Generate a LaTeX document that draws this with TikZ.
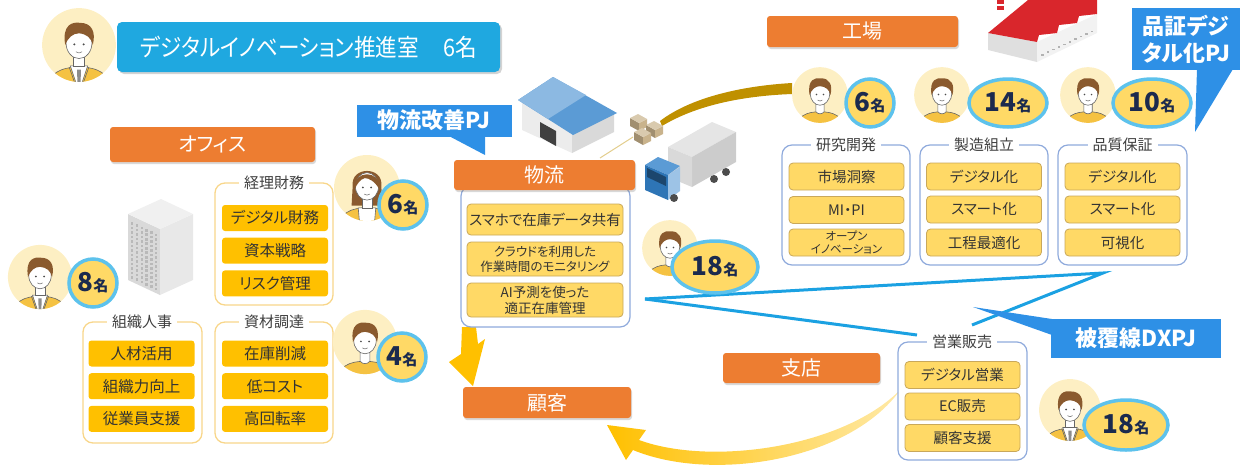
\documentclass[tikz,border=0pt]{standalone}
\usepackage{fontspec}
\setmainfont{Noto Sans CJK JP}[RawFeature=+palt]
\newfontfamily\narrowjp{Noto Sans CJK JP}[RawFeature=+palt, FakeStretch=0.9]
\usetikzlibrary{shapes.geometric,shadows}

\definecolor{hdrblue}{HTML}{1FA8E0}
\definecolor{pjblue}{HTML}{2E90E6}
\definecolor{lblorange}{HTML}{ED7D31}
\definecolor{itemgold}{HTML}{FFC000}
\definecolor{itemlight}{HTML}{FFD966}
\definecolor{itemedge}{HTML}{C9A85A}
\definecolor{grpyellow}{HTML}{F8D68A}
\definecolor{grpblue}{HTML}{8FAADC}
\definecolor{badgeline}{HTML}{5DC2EC}
\definecolor{navy}{HTML}{1B2A4E}
\definecolor{avbg}{HTML}{FDEFC3}
\definecolor{hair}{HTML}{8A5A2E}
\definecolor{shirt}{HTML}{F5C242}
\definecolor{wire}{HTML}{1BA1E2}
\definecolor{goldline}{HTML}{BF9000}
\definecolor{roofblue}{HTML}{5B9BD5}
\definecolor{cabblue}{HTML}{2E75B6}
\definecolor{crate}{HTML}{C9B38C}
\definecolor{factred}{HTML}{D9262C}

\newcommand\fsz[2]{\fontsize{#1}{#2}\selectfont}
\newcommand\cnt[1]{{\fsz{26}{26}\bfseries #1}{\fsz{15}{15}\bfseries 名}}
\newcommand\avface{%
  \draw[black!60, line width=.6, fill=white] (0,-1.5) ellipse (10.5 and 12.5);
  \fill[black!70] (-3.8,-0.5) circle (.9) (3.8,-0.5) circle (.9);
  \draw[black!60, line width=.5] (-2.5,5.5) .. controls (-1,6.8) and (1,6.8) .. (2.5,5.5);
}
\newcommand\avhair{%
  \fill[hair] (-11.2,0) .. controls (-14,-17) and (-5,-19) .. (1,-18)
    .. controls (10,-18) and (14,-11) .. (11.2,0)
    .. controls (10,-6) and (6,-9) .. (0,-9.5)
    .. controls (-5,-9.5) and (-9,-6) .. (-11.2,0) -- cycle;
}

\tikzset{
  hdr/.style={fill=hdrblue, rounded corners=5pt, text=white, font=\narrowjp\fsz{24}{26},
    drop shadow={opacity=.35, shadow xshift=2pt, shadow yshift=-2pt}},
  lbl/.style={fill=lblorange, rounded corners=3pt, text=white, font=\fsz{20}{21},
    drop shadow={opacity=.3, shadow xshift=1pt, shadow yshift=-2pt}},
  pj/.style={fill=pjblue, text=white, inner sep=0pt, align=center, font=\fsz{22}{27}\bfseries},
  grpo/.style={draw=grpyellow, line width=1.3pt, rounded corners=10pt},
  grpb/.style={draw=grpblue, line width=1.2pt, rounded corners=10pt},
  gttl/.style={fill=white, inner xsep=5pt, inner ysep=1pt, text=black!75, font=\fsz{15}{16}},
  itemo/.style={fill=itemgold, rounded corners=3pt, inner sep=0pt, text=black!80,
    minimum width=106, minimum height=26, font=\fsz{15.5}{16}},
  iteml/.style={fill=itemlight, draw=itemedge, line width=.8pt, rounded corners=4pt, inner sep=0pt,
    text=black!80, align=center, minimum width=115, minimum height=27, font=\fsz{14.5}{16}},
  badge/.style={circle, fill=itemlight, draw=badgeline, line width=3.5pt, inner sep=0pt,
    minimum size=48, text=navy},
  badgew/.style={ellipse, fill=itemlight, draw=badgeline, line width=3.5pt, inner sep=0pt,
    minimum width=78, minimum height=48, text=navy},
  wireline/.style={draw=wire, line width=3pt},
  pics/casual/.style={code={
    \fill[avbg] (0,0) circle (30);
    \begin{scope}
      \clip (0,0) circle (30);
      \draw[black!60, line width=.6, fill=shirt] (-27,40) .. controls (-26,22) and (-14,18) .. (0,18)
        .. controls (14,18) and (26,22) .. (27,40) -- cycle;
      \draw[black!60, line width=.6, fill=white] (-4.5,9) -- (-4.5,18) .. controls (-2,21) and (2,21) .. (4.5,18) -- (4.5,9);
      \avface
      \avhair
    \end{scope}
  }},
  pics/suit/.style={code={
    \fill[avbg] (0,0) circle (30);
    \begin{scope}
      \clip (0,0) circle (30);
      \draw[black!60, line width=.6, fill=shirt] (-27,40) .. controls (-26,22) and (-14,18) .. (0,18)
        .. controls (14,18) and (26,22) .. (27,40) -- cycle;
      \draw[black!60, line width=.6, fill=white] (-7,17) -- (7,17) -- (0,38) -- cycle;
      \fill[black!45] (-1.6,20) -- (1.6,20) -- (1.2,33) -- (-1.2,33) -- cycle;
      \draw[black!60, line width=.6] (-8,18) -- (-2,35) (8,18) -- (2,35);
      \draw[black!60, line width=.6, fill=white] (-4.5,9) -- (-4.5,17) -- (4.5,17) -- (4.5,9);
      \avface
      \avhair
    \end{scope}
  }},
  pics/lady/.style={code={
    \fill[avbg] (0,0) circle (30);
    \begin{scope}
      \clip (0,0) circle (30);
      \fill[hair] (-13,-2) .. controls (-15,-20) and (15,-20) .. (13,-2) -- (14,16) -- (-14,16) -- cycle;
      \draw[black!60, line width=.6, fill=shirt] (-27,40) .. controls (-26,22) and (-14,18) .. (0,18)
        .. controls (14,18) and (26,22) .. (27,40) -- cycle;
      \draw[black!60, line width=.6, fill=white] (-8,18) -- (8,18) -- (6,40) -- (-6,40) -- cycle;
      \draw[black!60, line width=.6, fill=white] (-4.5,9) -- (-4.5,18) -- (4.5,18) -- (4.5,9);
      \avface
      \fill[hair] (-11.2,1) .. controls (-13,-17) and (13,-17) .. (11.2,1)
        .. controls (7,-6) and (2,-9) .. (-2,-9) .. controls (-6,-8) and (-9,-4) .. (-11.2,1) -- cycle;
    \end{scope}
  }},
}

\begin{document}
\begin{tikzpicture}[x=1pt,y=-1pt]
\useasboundingbox (0,0) rectangle (1247,472);

% wires of the DX project
\coordinate (tap) at (645,299);
\coordinate (qa-foot) at (1103,273);
\coordinate (sales-in) at (917,335);
\coordinate (sales-mid) at (972,325);
\draw[wireline] (tap) -- (qa-foot) -- (sales-mid);
\draw[wireline] (tap) -- (sales-in);

% goods flow
\coordinate (wh-foot) at (600,158);
\coordinate (crate-a) at (660,121);
\coordinate (crate-b) at (662,126);
\coordinate (rd-a) at (792,83);
\coordinate (rd-b) at (792,94);
\draw[goldline!45, line width=1pt] (wh-foot) -- (633,137);
\fill[goldline] (crate-a) .. controls (690,98) and (740,86) .. (rd-a) -- (rd-b)
  .. controls (740,96) and (695,106) .. (crate-b) -- cycle;
\fill[itemgold] (462,327) -- (476,327) -- (478,344) -- (485,339) -- (473,386) -- (449,362) -- (461,354) -- cycle;
\shade[left color=itemgold, right color=itemgold!35] (898,393) .. controls (845,462) and (710,482) .. (633,450)
  -- (626,460) -- (607,425) -- (646,430) -- (639,440)
  .. controls (710,466) and (840,448) .. (898,392) -- cycle;

% office tower
\fill[gray!30] (128,214) -- (160,229) -- (160,295) -- (128,280) -- cycle;
\fill[gray!18] (160,229) -- (193,214) -- (193,280) -- (160,295) -- cycle;
\fill[gray!12] (128,214) -- (161,199) -- (193,214) -- (160,229) -- cycle;
\foreach \c in {0,...,5}
  \foreach \r in {0,...,12}
    \fill[gray!55] ({131+\c*4.8},{222+\r*4.5+\c*2.3}) rectangle +(2.4,2.6);

% warehouse
\fill[gray!15] (522,102) -- (572,133) -- (572,153) -- (522,130) -- cycle;
\fill[gray!30] (572,133) -- (614,112) -- (614,132) -- (572,153) -- cycle;
\fill[black!75] (540,122) -- (556,131) -- (556,146) -- (540,137) -- cycle;
\fill[roofblue] (518,100) -- (553,77) -- (617,113) -- (573,135) -- cycle;
\fill[roofblue!70!white] (518,100) -- (553,77) -- (586,95) -- (548,119) -- cycle;

% crates
\foreach \p in {(630,114),(646,121),(634,128)}{
  \fill[crate!80!black] \p ++(0,4) -- ++(9,5) -- ++(0,8) -- ++(-9,-5) -- cycle;
  \fill[crate] \p ++(9,9) -- ++(8,-4) -- ++(0,8) -- ++(-8,4) -- cycle;
  \fill[crate!70!white] \p ++(0,4) -- ++(8,-4) -- ++(9,5) -- ++(-8,4) -- cycle;
}

% truck
\fill[gray!20] (668,147) -- (712,122) -- (736,132) -- (692,157) -- cycle;
\fill[gray!40] (692,157) -- (736,132) -- (736,162) -- (692,187) -- cycle;
\fill[gray!30] (668,147) -- (692,157) -- (692,187) -- (668,177) -- cycle;
\fill[roofblue] (645,165) -- (658,157) -- (680,166) -- (668,175) -- cycle;
\fill[cabblue] (645,165) -- (668,175) -- (668,200) -- (645,190) -- cycle;
\fill[roofblue!60!white] (668,175) -- (680,167) -- (680,191) -- (668,200) -- cycle;
\fill[cabblue!60!black] (647,168) -- (666,177) -- (666,186) -- (647,177) -- cycle;
\fill[black!70] (674,198) circle (4) (714,179) circle (4) (726,172) circle (4);

% factory
\fill[gray!25] (988,33) -- (1037,42) -- (1037,62) -- (988,50) -- cycle;
\fill[gray!10] (1037,42) -- (1097,14) -- (1097,33) -- (1037,62) -- cycle;
\fill[factred] (988,33) -- (1028,0) -- (1097,0) -- (1097,14) -- (1079,16) -- (1077,23) -- (1059,25)
  -- (1057,33) -- (1039,35) -- (1037,42) -- cycle;
\fill[factred] (997,0) rectangle (1004,10);
\fill[white] (997,4) rectangle (1004,6);
\foreach \i in {0,...,9}
  \fill[gray!60] ({1041+\i*5.5},{54-\i*2.6}) rectangle +(2.5,1.5);

% header
\pic[scale=1.23] at (79,45) {suit};
\node[hdr, minimum width=383, minimum height=50] (dio) at (308.5,47) {デジタルイノベーション推進室\hspace{24pt}6名};

% office
\node[lbl, minimum width=205, minimum height=35] (office) at (212.5,144.5) {オフィス};
\draw[grpo] (215,183) rectangle (333,305);
\node[gttl] (acct) at (274,183) {経理財務};
\foreach \t [count=\i] in {デジタル財務,資本戦略,リスク管理}
  \node[itemo] (acct-\i) at (275,{218+32.7*(\i-1)}) {\t};
\draw[grpo] (83,322) rectangle (202,443);
\node[gttl] (hr) at (142,322) {組織人事};
\foreach \t [count=\i] in {人材活用,組織力向上,従業員支援}
  \node[itemo] (hr-\i) at (141.5,{353.5+32.7*(\i-1)}) {\t};
\draw[grpo] (215,322) rectangle (333,443);
\node[gttl] (proc) at (274,322) {資材調達};
\foreach \t [count=\i] in {在庫削減,低コスト,高回転率}
  \node[itemo] (proc-\i) at (275,{353.5+32.7*(\i-1)}) {\t};
\pic[scale=1.1] at (367,188) {lady};
\node[badge] (acct-n) at (403,205) {\cnt{6}};
\pic[scale=1.07] at (40,277) {suit};
\node[badge] (hr-n) at (93,283) {\cnt{8}};
\pic[scale=1.07] at (365,342) {casual};
\node[badge] (proc-n) at (402,357) {\cnt{4}};

% logistics
\node[pj, minimum width=155, minimum height=32] (pj-log) at (434,120.5) {物流改善PJ};
\fill[pjblue] (447,135) -- (485,135) -- (485,155) -- cycle;
\draw[grpb, fill=white] (461,186) rectangle (630,327);
\node[lbl, minimum width=181, minimum height=30] (logi) at (544.5,175) {物流};
\node[iteml, minimum width=156, minimum height=31] (logi-1) at (545,219.5) {スマホで在庫データ共有};
\node[iteml, minimum width=156, minimum height=34, font=\fsz{12.5}{15}] (logi-2) at (545,259) {クラウドを利用した\\作業時間のモニタリング};
\node[iteml, minimum width=156, minimum height=34, font=\fsz{13.5}{16}] (logi-3) at (545,300) {AI予測を使った\\適正在庫管理};
\pic[scale=.93] at (670,248) {casual};
\node[badgew, minimum width=86, minimum height=52] (logi-n) at (715,267) {\cnt{18}};
\node[lbl, minimum width=168, minimum height=31] (cust) at (547,402.5) {顧客};

% factory teams
\node[lbl, minimum width=191, minimum height=31] (factory) at (862.5,31.5) {工場};
\node[pj, minimum width=108, minimum height=62] (pj-qa) at (1186,39) {品証デジ\\タル化PJ};
\fill[pjblue] (1197,69) -- (1233,69) -- (1195,132) -- cycle;
\draw[grpb] (782,145) rectangle (910,265);
\node[gttl] (rd) at (846,145) {研究開発};
\node[iteml] (rd-1) at (846.5,176.5) {市場洞察};
\node[iteml] (rd-2) at (846.5,210) {MI・PI};
\node[iteml, font=\fsz{11.5}{12.5}] (rd-3) at (846.5,242.5) {オープン\\イノベーション};
\draw[grpb] (920,145) rectangle (1048,265);
\node[gttl] (mfg) at (984,145) {製造組立};
\foreach \t [count=\i] in {デジタル化,スマート化,工程最適化}
  \node[iteml] (mfg-\i) at (984,{176.5+33*(\i-1)}) {\t};
\draw[grpb] (1058,145) rectangle (1187,265);
\node[gttl] (qa) at (1122.5,145) {品質保証};
\foreach \t [count=\i] in {デジタル化,スマート化,可視化}
  \node[iteml] (qa-\i) at (1122.5,{176.5+33*(\i-1)}) {\t};
\pic[scale=.93] at (820,95) {casual};
\node[badge] (rd-n) at (870,103) {\cnt{6}};
\pic[scale=.93] at (942,95) {casual};
\node[badgew] (mfg-n) at (1008,103) {\cnt{14}};
\pic[scale=.93] at (1088,95) {casual};
\node[badgew] (qa-n) at (1152,103) {\cnt{10}};

% branch
\node[lbl, minimum width=157, minimum height=30] (branch) at (801.5,368) {支店};
\node[pj, minimum width=170, minimum height=39] (pj-dx) at (1136,338.5) {被覆線DXPJ};
\fill[pjblue] (1052,319) -- (973,307) -- (1052,335) -- cycle;
\draw[grpb] (898,342) rectangle (1027,460);
\node[gttl] (sales) at (962,342) {営業販売};
\foreach \t [count=\i] in {デジタル営業,EC販売,顧客支援}
  \node[iteml] (sales-\i) at (962.5,{375+31.5*(\i-1)}) {\t};
\pic[scale=1.03] at (1070,410) {suit};
\node[badgew, minimum width=84, minimum height=50] (sales-n) at (1126,425) {\cnt{18}};
\end{tikzpicture}
\end{document}
